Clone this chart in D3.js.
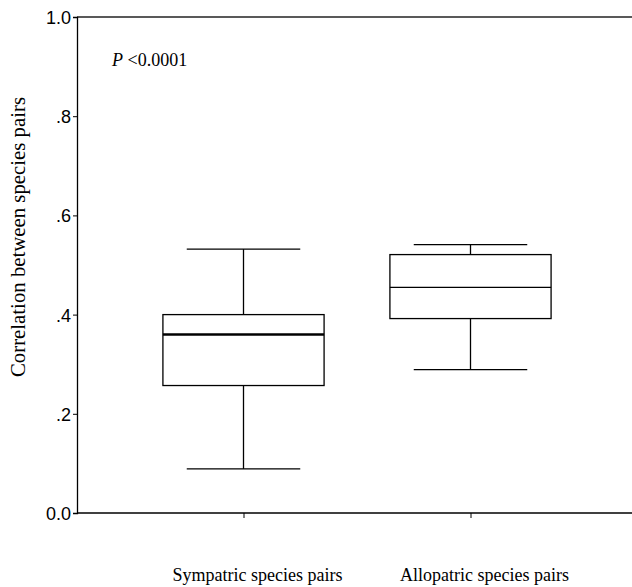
<!DOCTYPE html>
<html>
<head>
<meta charset="utf-8">
<script src="https://cdn.jsdelivr.net/npm/d3@7"></script>
<style>
  body { margin: 0; background: #fff; }
  svg { display: block; }
</style>
</head>
<body>
<svg id="chart" width="632" height="587"></svg>
<script>
// box plot summaries
var groups = ["Sympatric species pairs", "Allopatric species pairs"];
var whiskerLow = [0.089, 0.289];
var q1 = [0.257, 0.392];
var median = [0.360, 0.455];
var q3 = [0.400, 0.521];
var whiskerHigh = [0.532, 0.541];
var tickValues = [0, 0.2, 0.4, 0.6, 0.8, 1.0];
var tickLabels = ["0.0", ".2", ".4", ".6", ".8", "1.0"];

var svg = d3.select("#chart");
var plotLeft = 77, plotRight = 632, plotTop = 17, plotBottom = 513;

var y = d3.scaleLinear().domain([0, 1]).range([plotBottom, plotTop]);
var x = d3.scalePoint().domain(groups).range([130, 584]).padding(0.5);
var step = x.step();
var boxW = step * 0.71, capW = step * 0.5;

var boxes = groups.map(function (g, i) {
    return { name: g, lo: whiskerLow[i], q1: q1[i], med: median[i], q3: q3[i], hi: whiskerHigh[i], i: i };
});

// frame lines top and bottom
svg.append("line").attr("x1", plotLeft).attr("x2", plotRight).attr("y1", y(1)).attr("y2", y(1))
    .attr("stroke", "#222").attr("stroke-width", 1.3);
svg.append("line").attr("x1", plotLeft).attr("x2", plotRight).attr("y1", y(0)).attr("y2", y(0))
    .attr("stroke", "#000").attr("stroke-width", 1.5);

// y axis
var yAxis = d3.axisLeft(y).tickValues(tickValues).tickSize(4).tickPadding(2)
    .tickFormat(function (d, i) { return tickLabels[i]; });
var gy = svg.append("g").attr("transform", "translate(" + plotLeft + ",0)").call(yAxis);
gy.select(".domain").attr("stroke", "#000").attr("stroke-width", 1.3);
gy.selectAll(".tick line").attr("stroke", "#000");
gy.selectAll(".tick text").attr("font-family", "Liberation Sans, Arial, sans-serif")
    .attr("font-size", 18).attr("fill", "#000").attr("dy", "0.36em");

// x ticks (labels placed separately)
var xAxis = d3.axisBottom(x).tickSize(5).tickFormat("");
var gx = svg.append("g").attr("transform", "translate(0," + plotBottom + ")").call(xAxis);
gx.select(".domain").remove();
gx.selectAll(".tick line").attr("stroke", "#000");

svg.selectAll(".xlabel").data(groups).join("text")
    .attr("class", "xlabel")
    .attr("x", function (d) { return x(d) + 14; })
    .attr("y", 581)
    .attr("text-anchor", "middle")
    .attr("font-family", "Liberation Serif, Times New Roman, serif")
    .attr("font-size", 18)
    .text(function (d) { return d; });

// boxes
var g = svg.append("g").attr("stroke", "#000").attr("fill", "none");
var b = g.selectAll("g.box").data(boxes).join("g").attr("class", "box");

b.append("line")
    .attr("x1", function (d) { return x(d.name); }).attr("x2", function (d) { return x(d.name); })
    .attr("y1", function (d) { return y(d.hi); }).attr("y2", function (d) { return y(d.q3); })
    .attr("stroke-width", 1.3);
b.append("line")
    .attr("x1", function (d) { return x(d.name); }).attr("x2", function (d) { return x(d.name); })
    .attr("y1", function (d) { return y(d.q1); }).attr("y2", function (d) { return y(d.lo); })
    .attr("stroke-width", 1.3);
b.append("line")
    .attr("x1", function (d) { return x(d.name) - capW / 2; }).attr("x2", function (d) { return x(d.name) + capW / 2; })
    .attr("y1", function (d) { return y(d.hi); }).attr("y2", function (d) { return y(d.hi); })
    .attr("stroke-width", 1.3);
b.append("line")
    .attr("x1", function (d) { return x(d.name) - capW / 2; }).attr("x2", function (d) { return x(d.name) + capW / 2; })
    .attr("y1", function (d) { return y(d.lo); }).attr("y2", function (d) { return y(d.lo); })
    .attr("stroke-width", 1.3);
b.append("rect")
    .attr("x", function (d) { return x(d.name) - boxW / 2; })
    .attr("y", function (d) { return y(d.q3); })
    .attr("width", boxW)
    .attr("height", function (d) { return y(d.q1) - y(d.q3); })
    .attr("fill", "#fff").attr("stroke-width", 1.3);
b.append("line")
    .attr("x1", function (d) { return x(d.name) - boxW / 2; }).attr("x2", function (d) { return x(d.name) + boxW / 2; })
    .attr("y1", function (d) { return y(d.med); }).attr("y2", function (d) { return y(d.med); })
    .attr("stroke-width", function (d) { return d.i == 0 ? 2.6 : 1.3; });

// y label
svg.append("text")
    .attr("transform", "translate(25,237) rotate(-90)")
    .attr("text-anchor", "middle")
    .attr("font-family", "Liberation Serif, Times New Roman, serif")
    .attr("font-size", 20.8)
    .text("Correlation between species pairs");

// p value note
var note = svg.append("text").attr("x", 112).attr("y", 66)
    .attr("font-family", "Liberation Serif, Times New Roman, serif")
    .attr("font-size", 18);
note.append("tspan").attr("font-style", "italic").text("P");
note.append("tspan").text(" <0.0001");
</script>
</body>
</html>
